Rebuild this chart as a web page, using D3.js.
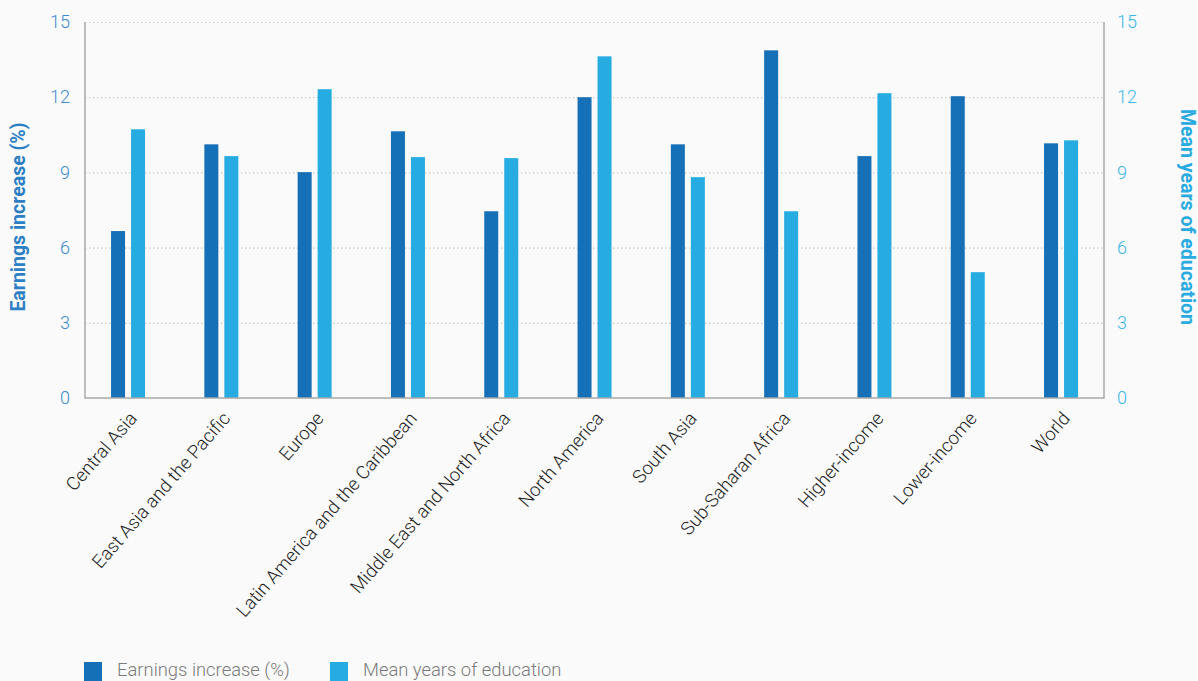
<!DOCTYPE html>
<html>
<head>
<meta charset="utf-8">
<script src="https://cdn.jsdelivr.net/npm/d3@7/dist/d3.min.js"></script>
<style>
  html, body { margin: 0; padding: 0; background: #fafafa; }
  svg { display: block; }
  text { font-family: "Helvetica Neue", Roboto, "Open Sans", sans-serif; }
</style>
</head>
<body>
<svg id="chart" width="1198" height="681"></svg>
<script>
const categories = ["Central Asia", "East Asia and the Pacific", "Europe", "Latin America and the Caribbean",
  "Middle East and North Africa", "North America", "South Asia", "Sub-Saharan Africa",
  "Higher-income", "Lower-income", "World"];
const earningsIncrease = [6.66, 10.12, 9.01, 10.64, 7.45, 12.0, 10.12, 13.87, 9.65, 12.04, 10.16];
const meanYearsEducation = [10.72, 9.65, 12.32, 9.61, 9.57, 13.63, 8.81, 7.45, 12.16, 5.02, 10.28];
const yTicks = [0, 3, 6, 9, 12, 15];
const seriesNames = ["Earnings increase (%)", "Mean years of education"];
const leftTitle = "Earnings increase (%)";
const rightTitle = "Mean years of education";

(function () {
const colDark = "#1670b8", colLight = "#27ace2";
const svg = d3.select("#chart");
const pL = 85, pR = 1104, pT = 22, pB = 398;

const x = d3.scaleBand().domain(categories).range([81.4, 1107.7]).padding(0);
const yL = d3.scaleLinear().domain([0, 15]).range([pB, pT]);
const yR = d3.scaleLinear().domain([0, 15]).range([pB, pT]);

svg.append("g").selectAll("line").data(yTicks.filter(d => d > 0)).join("line")
  .attr("x1", pL).attr("x2", pR)
  .attr("y1", d => yL(d) + 0.5).attr("y2", d => yL(d) + 0.5)
  .attr("stroke", "#c4c4c4").attr("stroke-width", 1.2).attr("stroke-dasharray", "1.3,2.7");

const bw = 14, gap = 6;
svg.append("g").selectAll("rect").data(categories).join("rect")
  .attr("x", d => x(d) + x.bandwidth() / 2 - gap / 2 - bw)
  .attr("width", bw)
  .attr("y", (d, i) => yL(earningsIncrease[i]))
  .attr("height", (d, i) => pB - yL(earningsIncrease[i]))
  .attr("fill", colDark);
svg.append("g").selectAll("rect").data(categories).join("rect")
  .attr("x", d => x(d) + x.bandwidth() / 2 + gap / 2)
  .attr("width", bw)
  .attr("y", (d, i) => yR(meanYearsEducation[i]))
  .attr("height", (d, i) => pB - yR(meanYearsEducation[i]))
  .attr("fill", colLight);

const axisCol = "#a8a8a8";
svg.append("line").attr("x1", pL).attr("x2", pL).attr("y1", pT).attr("y2", pB + 0.75)
  .attr("stroke", axisCol).attr("stroke-width", 1.5);
svg.append("line").attr("x1", pR).attr("x2", pR).attr("y1", pT).attr("y2", pB + 0.75)
  .attr("stroke", axisCol).attr("stroke-width", 1.5);
svg.append("line").attr("x1", pL).attr("x2", pR).attr("y1", pB).attr("y2", pB)
  .attr("stroke", axisCol).attr("stroke-width", 1.5);

const gl = svg.append("g").attr("transform", `translate(${pL},0)`)
  .call(d3.axisLeft(yL).tickValues(yTicks).tickSize(0).tickPadding(15));
gl.select(".domain").remove();
gl.selectAll("text").attr("fill", "#3a8bd0").attr("font-size", 18).attr("font-weight", 300);

const gr = svg.append("g").attr("transform", `translate(${pR},0)`)
  .call(d3.axisRight(yR).tickValues(yTicks).tickSize(0).tickPadding(13));
gr.select(".domain").remove();
gr.selectAll("text").attr("fill", "#3db6ea").attr("font-size", 18).attr("font-weight", 300);

const gx = svg.append("g").attr("transform", `translate(0,${pB})`)
  .call(d3.axisBottom(x).tickSize(0).tickPadding(0));
gx.select(".domain").remove();
gx.selectAll("text")
  .attr("font-size", 18.5).attr("font-weight", 300).attr("fill", "#222")
  .attr("text-anchor", "end")
  .attr("dy", 0)
  .attr("transform", "translate(10,21) rotate(-49)");

[gl, gr, gx].forEach(g => g.attr("font-family", null));

svg.append("text").text(leftTitle)
  .attr("transform", `translate(25,217) rotate(-90)`)
  .attr("text-anchor", "middle").attr("font-size", 19.5).attr("font-weight", 700)
  .attr("fill", "#2d7fc5");
svg.append("text").text(rightTitle)
  .attr("transform", `translate(1181,217) rotate(90)`)
  .attr("text-anchor", "middle").attr("font-size", 19.5).attr("font-weight", 700)
  .attr("fill", "#29abe2");

const legX = [84, 330];
const legCols = [colDark, colLight];
const lg = svg.append("g");
seriesNames.forEach((n, i) => {
  lg.append("rect").attr("x", legX[i]).attr("y", 662).attr("width", 18).attr("height", 20).attr("fill", legCols[i]);
  lg.append("text").text(n).attr("x", legX[i] + 33).attr("y", 676)
    .attr("font-size", 18.4).attr("font-weight", 300).attr("fill", "#7a7a7a");
});
})();
</script>
</body>
</html>
